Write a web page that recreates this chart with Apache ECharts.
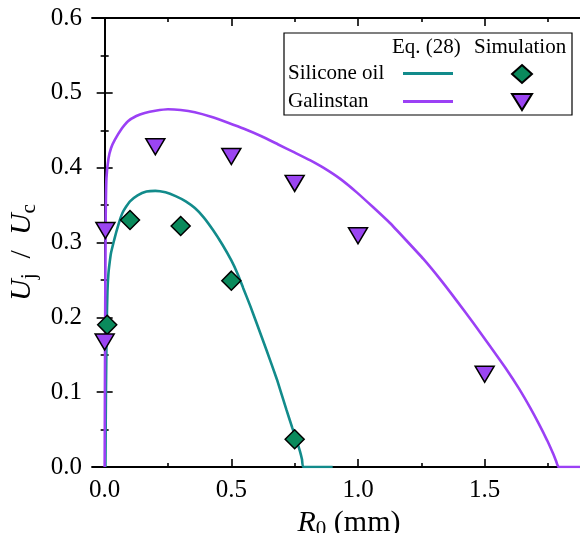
<!DOCTYPE html>
<html><head><meta charset="utf-8">
<script src="https://cdn.jsdelivr.net/npm/echarts@6/dist/echarts.min.js"></script>
<style>html,body{margin:0;padding:0;background:#fff}#c{width:580px;height:533px}</style>
</head><body><div id="c"></div>
<script>
// ---- data ----
const siliconeCurve = [[0.003,0],[0.005,0.1],[0.008,0.19],[0.011,0.235],[0.015,0.259],[0.02,0.274],[0.025,0.286],[0.035,0.3],[0.045,0.313],[0.058,0.328],[0.071,0.34],[0.085,0.348],[0.1,0.355],[0.13,0.363],[0.165,0.368],[0.2,0.369],[0.24,0.367],[0.28,0.362],[0.32,0.355],[0.356,0.346],[0.39,0.334],[0.427,0.317],[0.465,0.297],[0.5,0.276],[0.525,0.258],[0.547,0.239],[0.575,0.215],[0.6,0.192],[0.639,0.156],[0.68,0.117],[0.718,0.076],[0.74,0.053],[0.757,0.036],[0.771,0.021],[0.779,0.01],[0.784,0],[0.9,0]];
const galinstanCurve = [[0.0,0],[0.002,0.2],[0.004,0.33],[0.007,0.386],[0.015,0.412],[0.025,0.426],[0.04,0.437],[0.065,0.451],[0.092,0.462],[0.125,0.469],[0.158,0.473],[0.2,0.476],[0.25,0.478],[0.3,0.477],[0.356,0.474],[0.42,0.468],[0.487,0.46],[0.55,0.452],[0.619,0.442],[0.685,0.431],[0.751,0.42],[0.81,0.41],[0.863,0.4],[0.93,0.385],[0.995,0.367],[1.06,0.347],[1.126,0.326],[1.19,0.303],[1.258,0.278],[1.324,0.251],[1.39,0.222],[1.456,0.192],[1.52,0.162],[1.587,0.13],[1.635,0.105],[1.68,0.079],[1.715,0.057],[1.746,0.036],[1.77,0.018],[1.782,0.008],[1.792,0],[1.95,0]];
const siliconeSim = [[0.01,0.19],[0.1,0.33],[0.3,0.322],[0.5,0.249],[0.75,0.037]];
const galinstanSim = [[0.0,0.167],[0.003,0.316],[0.2,0.428],[0.5,0.415],[0.75,0.379],[1.0,0.309],[1.5,0.124]];
const xMajorTicks = [0, 0.5, 1.0, 1.5];
const xMinorTicks = [0.25, 0.75, 1.25, 1.75];

const TEAL = '#128b8b', PURPLE = '#9b40f5', GREEN = '#0a8a5c', VIOLET = '#9b45f2';
const FONT = "'Liberation Serif', 'Times New Roman', serif";
const triPath = 'path://M0,0 L20,0 L10,16 Z';

const chart = echarts.init(document.getElementById('c'));
const axisLine = {show: true, lineStyle: {color: '#000', width: 1.8}};
const tickStyle = {color: '#000', width: 1.6};
const baseX = {type: 'value', min: -0.05, max: 1.9, splitLine: {show: false}};
chart.setOption({
  animation: false,
  grid: {left: 92, top: 18, width: 494, height: 449, containLabel: false, outerBoundsMode: 'none'},
  xAxis: [
    Object.assign({}, baseX, {
      position: 'bottom', axisLine: axisLine,
      axisTick: {show: true, inside: true, length: 8, lineStyle: tickStyle, customValues: xMajorTicks},
      axisLabel: {show: true, customValues: xMajorTicks, margin: 11, color: '#000', fontFamily: FONT, fontSize: 25, formatter: v => v.toFixed(1)},
      name: '{i|R}{s|0} (mm)', nameLocation: 'middle', nameGap: 30,
      nameTextStyle: {color: '#000', fontFamily: FONT, fontSize: 30, padding: [0, 0, 0, 20],
        rich: {i: {fontFamily: FONT, fontSize: 30, fontStyle: 'italic', color: '#000'}, s: {fontFamily: FONT, fontSize: 21, color: '#000', padding: [14, 0, 0, 0]}}}
    }),
    Object.assign({}, baseX, {
      position: 'bottom', axisLine: {show: false},
      axisTick: {show: true, inside: true, length: 4, lineStyle: tickStyle, customValues: xMinorTicks},
      axisLabel: {show: false}
    }),
    Object.assign({}, baseX, {
      position: 'top', axisLine: axisLine,
      axisTick: {show: true, inside: true, length: 8, lineStyle: tickStyle, customValues: xMajorTicks},
      axisLabel: {show: false}
    }),
    Object.assign({}, baseX, {
      position: 'top', axisLine: {show: false},
      axisTick: {show: true, inside: true, length: 4, lineStyle: tickStyle, customValues: xMinorTicks},
      axisLabel: {show: false}
    })
  ],
  yAxis: [
    {
      type: 'value', min: 0, max: 0.6, interval: 0.1, position: 'left',
      axisLine: axisLine, splitLine: {show: false},
      axisTick: {show: true, inside: true, length: 8, lineStyle: tickStyle},
      minorTick: {show: true, splitNumber: 2, length: 4, lineStyle: tickStyle},
      axisLabel: {margin: 10, color: '#000', fontFamily: FONT, fontSize: 25, formatter: v => v.toFixed(1)},
      name: '{i|U}{s|j}{n|  /  }{i|U}{s|c}', nameLocation: 'middle', nameGap: 45, nameRotate: 90,
      nameTextStyle: {color: '#000', fontFamily: FONT, fontSize: 30, padding: [0, 20, 0, 0],
        rich: {i: {fontFamily: FONT, fontSize: 30, fontStyle: 'italic', color: '#000'},
               n: {fontFamily: FONT, fontSize: 30, color: '#000'},
               s: {fontFamily: FONT, fontSize: 21, color: '#000', padding: [14, 0, 0, 0]}}}
    },
    {
      type: 'value', min: 0, max: 0.6, interval: 0.1, position: 'right',
      axisLine: axisLine, splitLine: {show: false},
      axisTick: {show: true, inside: true, length: 8, lineStyle: tickStyle},
      minorTick: {show: true, splitNumber: 2, length: 4, lineStyle: tickStyle},
      axisLabel: {show: false}
    }
  ],
  legend: [
    {
      data: ['Silicone oil', 'Galinstan'], orient: 'vertical', align: 'right',
      left: 288, top: 63, itemWidth: 50, itemHeight: 3, itemGap: 7, padding: 0,
      icon: 'rect', selectedMode: false,
      formatter: name => '{a|' + name + '}',
      textStyle: {fontFamily: FONT, fontSize: 21, color: '#000', lineHeight: 20,
        rich: {a: {fontFamily: FONT, fontSize: 21, color: '#000', width: 110, align: 'left', lineHeight: 20}}}
    },
    {
      data: ['Silicone oil (simulation)', 'Galinstan (simulation)'], orient: 'vertical',
      left: 511, top: 64, itemWidth: 20, itemHeight: 18, itemGap: 9, padding: 0,
      selectedMode: false, formatter: () => '',
      textStyle: {fontSize: 1}
    }
  ],
  graphic: [
    {type: 'rect', shape: {x: 284, y: 33, width: 288, height: 82}, style: {fill: 'none', stroke: '#000', lineWidth: 1.2}, z: 0},
    {type: 'text', x: 392, y: 47, style: {text: 'Eq. (28)', fontFamily: FONT, fontSize: 21, fill: '#000', verticalAlign: 'middle'}},
    {type: 'text', x: 474, y: 47, style: {text: 'Simulation', fontFamily: FONT, fontSize: 21, fill: '#000', verticalAlign: 'middle'}}
  ],
  series: [
    {name: 'Silicone oil', type: 'line', data: siliconeCurve, symbol: 'none', smooth: 0.15, lineStyle: {color: TEAL, width: 2.6}, itemStyle: {color: TEAL}, z: 2},
    {name: 'Galinstan', type: 'line', data: galinstanCurve, symbol: 'none', smooth: 0.15, lineStyle: {color: PURPLE, width: 2.6}, itemStyle: {color: PURPLE}, z: 2},
    {name: 'Silicone oil (simulation)', type: 'scatter', data: siliconeSim, symbol: 'diamond', symbolSize: 19,
      itemStyle: {color: GREEN, borderColor: '#000', borderWidth: 1.5, opacity: 1}, z: 5},
    {name: 'Galinstan (simulation)', type: 'scatter', data: galinstanSim, symbol: triPath, symbolSize: [19, 16],
      itemStyle: {color: VIOLET, borderColor: '#000', borderWidth: 1.5, opacity: 1}, z: 5}
  ]
});
</script></body></html>
